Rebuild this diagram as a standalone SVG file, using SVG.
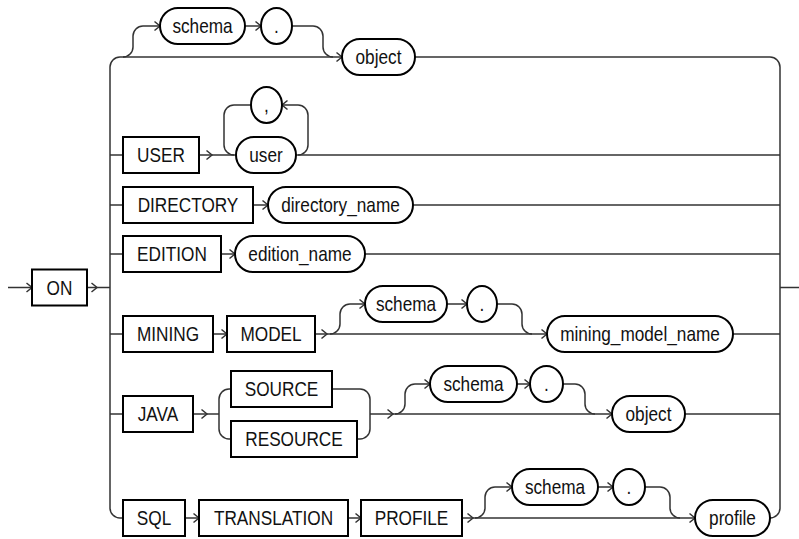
<svg xmlns="http://www.w3.org/2000/svg" width="799" height="539" viewBox="0 0 799 539">
<style>
.bg{fill:#fff}
.box{fill:#fff;stroke:#000;stroke-width:2}
.pill{fill:#fff;stroke:#000;stroke-width:2}
.ln{fill:none;stroke:#333;stroke-width:1.5}
.ar{fill:none;stroke:#333;stroke-width:1.5;marker-end:url(#arr)}
text{font-family:"Liberation Sans",Arial,sans-serif;font-size:21px;fill:#111;text-anchor:middle}
</style>
<defs>
<marker id="arr" markerUnits="userSpaceOnUse" markerWidth="10" markerHeight="12" viewBox="-7 -6 8 12" refX="0" refY="0" orient="auto">
<path d="M-5.5,-4.5 L0,0 L-5.5,4.5" fill="none" stroke="#333" stroke-width="1.5"/>
</marker>
</defs>
<rect class="bg" x="0" y="0" width="799" height="539"/>
<g id="connectors">
<path class="ar" d="M8,287.5 H32"/>
<path class="ar" d="M87,287.5 H97"/>
<path class="ln" d="M97,287.5 H110"/>
<path class="ln" d="M120,57 A10,10 0 0 0 110,67 V508 A10,10 0 0 0 120,518 H123"/>
<path class="ar" d="M120,57 H342"/>
<path class="ln" d="M415,57 H770 A10,10 0 0 1 780,67 V508 A10,10 0 0 1 770,518"/>
<path class="ln" d="M780,287.5 H799"/>
<path class="ar" d="M123,57 A10,10 0 0 0 133,47 V36 A10,10 0 0 1 143,26 H160"/>
<path class="ar" d="M245,26 H261"/>
<path class="ln" d="M292,26 H313 A10,10 0 0 1 323,36 V47 A10,10 0 0 0 333,57"/>
<path class="ln" d="M110,155 H123"/>
<path class="ar" d="M199,155 H212"/>
<path class="ln" d="M212,155 H236"/>
<path class="ln" d="M296,155 H780"/>
<path class="ar" d="M298,155 A10,10 0 0 0 308,145 V115 A10,10 0 0 0 298,105 H282"/>
<path class="ln" d="M251,105 H234 A10,10 0 0 0 224,115 V145 A10,10 0 0 0 234,155"/>
<path class="ln" d="M110,205 H123"/>
<path class="ar" d="M253,205 H268"/>
<path class="ln" d="M413,205 H780"/>
<path class="ln" d="M110,254 H123"/>
<path class="ar" d="M221,254 H235"/>
<path class="ln" d="M365,254 H780"/>
<path class="ln" d="M110,334 H123"/>
<path class="ar" d="M213,334 H227"/>
<path class="ar" d="M315,334 H327"/>
<path class="ar" d="M327,334 H547"/>
<path class="ar" d="M330,334 A10,10 0 0 0 340,324 V314 A10,10 0 0 1 350,304 H365"/>
<path class="ar" d="M447,304 H467"/>
<path class="ln" d="M497,304 H512 A10,10 0 0 1 522,314 V324 A10,10 0 0 0 532,334"/>
<path class="ln" d="M733,334 H780"/>
<path class="ln" d="M110,414 H123"/>
<path class="ar" d="M193,414 H207"/>
<path class="ln" d="M207,414 H219"/>
<path class="ln" d="M231,389 H229 A10,10 0 0 0 219,399 V429 A10,10 0 0 0 229,439 H231"/>
<path class="ln" d="M332,389 H360 A10,10 0 0 1 370,399 V429 A10,10 0 0 1 360,439 H357"/>
<path class="ar" d="M370,414 H393"/>
<path class="ar" d="M393,414 H612"/>
<path class="ar" d="M395,414 A10,10 0 0 0 405,404 V394 A10,10 0 0 1 415,384 H430"/>
<path class="ar" d="M517,384 H530"/>
<path class="ln" d="M563,384 H575 A10,10 0 0 1 585,394 V404 A10,10 0 0 0 595,414"/>
<path class="ln" d="M685,414 H780"/>
<path class="ar" d="M185,518 H199"/>
<path class="ar" d="M348,518 H361"/>
<path class="ar" d="M462,518 H473"/>
<path class="ar" d="M473,518 H695"/>
<path class="ar" d="M475,518 A10,10 0 0 0 485,508 V497 A10,10 0 0 1 495,487 H512"/>
<path class="ar" d="M598,487 H613"/>
<path class="ln" d="M645,487 H660 A10,10 0 0 1 670,497 V508 A10,10 0 0 0 680,518"/>
</g>
<g id="n-on"><rect class="box" x="32" y="269.5" width="55" height="36"/><text transform="translate(59.5,294.5) scale(0.82,1)">ON</text></g>
<g id="n-schema1"><rect class="pill" x="160" y="8" width="85" height="36" rx="18"/><text transform="translate(202.5,33) scale(0.82,1)">schema</text></g>
<g id="n-dot1"><rect class="pill" x="261" y="8" width="31" height="36" rx="15.5" ry="18"/><text transform="translate(276.5,33) scale(0.82,1)">.</text></g>
<g id="n-object1"><rect class="pill" x="342" y="39" width="73" height="36" rx="18"/><text transform="translate(378.5,64) scale(0.82,1)">object</text></g>
<g id="n-user-kw"><rect class="box" x="123" y="137" width="76" height="36"/><text transform="translate(161,162) scale(0.82,1)">USER</text></g>
<g id="n-comma"><rect class="pill" x="251" y="87" width="31" height="36" rx="15.5" ry="18"/><text transform="translate(266.5,112) scale(0.82,1)">,</text></g>
<g id="n-user"><rect class="pill" x="236" y="137" width="60" height="36" rx="18"/><text transform="translate(266,162) scale(0.82,1)">user</text></g>
<g id="n-directory"><rect class="box" x="123" y="187" width="130" height="36"/><text transform="translate(188,212) scale(0.82,1)">DIRECTORY</text></g>
<g id="n-directory-name"><rect class="pill" x="268" y="187" width="145" height="36" rx="18"/><text transform="translate(340.5,212) scale(0.82,1)">directory_name</text></g>
<g id="n-edition"><rect class="box" x="123" y="236" width="98" height="36"/><text transform="translate(172,261) scale(0.82,1)">EDITION</text></g>
<g id="n-edition-name"><rect class="pill" x="235" y="236" width="130" height="36" rx="18"/><text transform="translate(300,261) scale(0.82,1)">edition_name</text></g>
<g id="n-mining"><rect class="box" x="123" y="316" width="90" height="36"/><text transform="translate(168,341) scale(0.82,1)">MINING</text></g>
<g id="n-model"><rect class="box" x="227" y="316" width="88" height="36"/><text transform="translate(271,341) scale(0.82,1)">MODEL</text></g>
<g id="n-schema2"><rect class="pill" x="365" y="286" width="82" height="36" rx="18"/><text transform="translate(406,311) scale(0.82,1)">schema</text></g>
<g id="n-dot2"><rect class="pill" x="467" y="286" width="30" height="36" rx="15" ry="18"/><text transform="translate(482,311) scale(0.82,1)">.</text></g>
<g id="n-mining-model-name"><rect class="pill" x="547" y="316" width="186" height="36" rx="18"/><text transform="translate(640,341) scale(0.82,1)">mining_model_name</text></g>
<g id="n-java"><rect class="box" x="123" y="396" width="70" height="36"/><text transform="translate(158,421) scale(0.82,1)">JAVA</text></g>
<g id="n-source"><rect class="box" x="231" y="371" width="101" height="36"/><text transform="translate(281.5,396) scale(0.82,1)">SOURCE</text></g>
<g id="n-resource"><rect class="box" x="231" y="421" width="126" height="36"/><text transform="translate(294,446) scale(0.82,1)">RESOURCE</text></g>
<g id="n-schema3"><rect class="pill" x="430" y="366" width="87" height="36" rx="18"/><text transform="translate(473.5,391) scale(0.82,1)">schema</text></g>
<g id="n-dot3"><rect class="pill" x="530" y="366" width="33" height="36" rx="16.5" ry="18"/><text transform="translate(546.5,391) scale(0.82,1)">.</text></g>
<g id="n-object2"><rect class="pill" x="612" y="396" width="73" height="36" rx="18"/><text transform="translate(648.5,421) scale(0.82,1)">object</text></g>
<g id="n-sql"><rect class="box" x="123" y="500" width="62" height="36"/><text transform="translate(154,525) scale(0.82,1)">SQL</text></g>
<g id="n-translation"><rect class="box" x="199" y="500" width="149" height="36"/><text transform="translate(273.5,525) scale(0.82,1)">TRANSLATION</text></g>
<g id="n-profile-kw"><rect class="box" x="361" y="500" width="101" height="36"/><text transform="translate(411.5,525) scale(0.82,1)">PROFILE</text></g>
<g id="n-schema4"><rect class="pill" x="512" y="469" width="86" height="36" rx="18"/><text transform="translate(555,494) scale(0.82,1)">schema</text></g>
<g id="n-dot4"><rect class="pill" x="613" y="469" width="32" height="36" rx="16" ry="18"/><text transform="translate(629,494) scale(0.82,1)">.</text></g>
<g id="n-profile"><rect class="pill" x="695" y="500" width="75" height="36" rx="18"/><text transform="translate(732.5,525) scale(0.82,1)">profile</text></g>
</svg>
